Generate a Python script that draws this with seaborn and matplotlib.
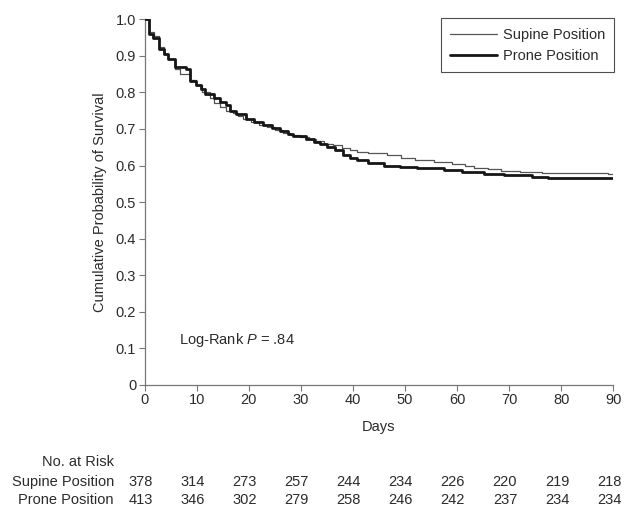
import matplotlib
matplotlib.use("Agg")
import matplotlib.pyplot as plt
import matplotlib.transforms as mtransforms
import numpy as np
import pandas as pd
import seaborn as sns

sns.set_theme(style="white")
plt.rcParams["font.family"] = ["Liberation Sans", "DejaVu Sans"]
plt.rcParams["mathtext.fontset"] = "custom"
plt.rcParams["mathtext.it"] = "Liberation Sans:italic"
plt.rcParams["mathtext.rm"] = "Liberation Sans"

TEXT = "#2b2b2b"

# Kaplan-Meier step values
supine_days = [0, 0.8, 1.8, 2.7, 3.7, 4.6, 5.8, 6.8, 8.7, 9.8, 11.0, 12.5, 13.4, 14.4,
               15.6, 16.9, 18.0, 19.0, 20.5, 22.0, 23.5, 25.0, 26.5, 28.0, 29.8, 31.5,
               33.0, 34.5, 36.2, 38.0, 39.5, 40.8, 43.0, 46.6, 49.2, 52.0, 55.6, 59.0,
               61.5, 63.3, 66.0, 68.5, 72.0, 76.3, 89.0, 90.0]
supine_surv = [1.0, 0.965, 0.955, 0.925, 0.905, 0.89, 0.865, 0.85, 0.835, 0.82, 0.80,
               0.785, 0.77, 0.76, 0.75, 0.745, 0.735, 0.728, 0.72, 0.712, 0.705, 0.698,
               0.69, 0.684, 0.679, 0.672, 0.666, 0.66, 0.656, 0.648, 0.642, 0.637, 0.634,
               0.630, 0.622, 0.616, 0.609, 0.603, 0.598, 0.594, 0.590, 0.586, 0.583,
               0.580, 0.578, 0.578]

prone_days = [0, 0.8, 1.7, 2.7, 3.7, 4.6, 5.9, 7.9, 8.8, 9.8, 10.8, 11.7, 13.4, 14.5,
              15.6, 16.5, 17.5, 19.5, 21.0, 22.7, 24.5, 26.0, 27.5, 28.5, 31.0, 32.5,
              33.7, 35.0, 36.5, 38.2, 39.5, 40.8, 43.0, 45.9, 49.0, 52.4, 57.5, 61.0,
              65.2, 69.0, 74.3, 77.5, 90.0]
prone_surv = [1.0, 0.96, 0.95, 0.92, 0.905, 0.89, 0.87, 0.865, 0.83, 0.82, 0.81, 0.795,
              0.785, 0.775, 0.765, 0.75, 0.74, 0.728, 0.72, 0.71, 0.703, 0.695, 0.687,
              0.68, 0.672, 0.665, 0.66, 0.652, 0.643, 0.630, 0.622, 0.616, 0.608, 0.600,
              0.596, 0.592, 0.587, 0.583, 0.578, 0.574, 0.569, 0.566, 0.566]

risk_days = [0, 10, 20, 30, 40, 50, 60, 70, 80, 90]
supine_risk = [378, 314, 273, 257, 244, 234, 226, 220, 219, 218]
prone_risk = [413, 346, 302, 279, 258, 246, 242, 237, 234, 234]

x_ticks = [0, 10, 20, 30, 40, 50, 60, 70, 80, 90]
y_ticks = [0, 0.1, 0.2, 0.3, 0.4, 0.5, 0.6, 0.7, 0.8, 0.9, 1.0]
y_labels = ["0", "0.1", "0.2", "0.3", "0.4", "0.5", "0.6", "0.7", "0.8", "0.9", "1.0"]

fig = plt.figure(figsize=(6.28, 5.11), dpi=100)
ax = fig.add_axes([0.2301, 0.2466, 0.7465, 0.7157])

sns.lineplot(x=supine_days, y=supine_surv, ax=ax, drawstyle="steps-post",
             estimator=None, sort=False, color="#555555", linewidth=0.9,
             label="Supine Position")
sns.lineplot(x=prone_days, y=prone_surv, ax=ax, drawstyle="steps-post",
             estimator=None, sort=False, color="#161616", linewidth=2.0,
             label="Prone Position")

ax.set_xlim(0, 90)
ax.set_ylim(0, 1.0)
ax.set_xticks(x_ticks)
ax.set_yticks(y_ticks)
ax.set_yticklabels(y_labels)
ax.tick_params(axis="both", direction="out", length=4, width=0.8, color="#777777",
               labelsize=10.5, labelcolor=TEXT, pad=2, left=True, bottom=True)
for side in ["top", "right"]:
    ax.spines[side].set_visible(False)
for side in ["left", "bottom"]:
    ax.spines[side].set_color("#777777")
    ax.spines[side].set_linewidth(0.9)
ax.spines["left"].set_zorder(0)

ax.set_xlabel("Days", fontsize=10.5, color=TEXT, labelpad=9)
ax.set_ylabel("Cumulative Probability of Survival", fontsize=10.5, color=TEXT, labelpad=6)

leg = ax.legend(loc="upper right", bbox_to_anchor=(1.002, 1.003), frameon=True,
                fancybox=False, fontsize=10.5, handlelength=3.2, handletextpad=0.4,
                borderpad=0.65, labelspacing=0.5, borderaxespad=0)
leg.get_frame().set_edgecolor("#222222")
leg.get_frame().set_linewidth(0.8)
for t in leg.get_texts():
    t.set_color(TEXT)

ax.text(6.6, 0.123, "Log-Rank $P$ = .84", fontsize=10.5, color=TEXT, va="center", ha="left")

# number at risk table
trans = mtransforms.blended_transform_factory(ax.transData, fig.transFigure)
label_x = 114 / 628
fig.text(label_x, 1 - 462 / 511, "No. at Risk", ha="right", va="center",
         fontsize=10.5, color=TEXT)
fig.text(label_x, 1 - 482 / 511, "Supine Position", ha="right", va="center",
         fontsize=10.5, color=TEXT)
fig.text(label_x, 1 - 500 / 511, "Prone Position", ha="right", va="center",
         fontsize=10.5, color=TEXT)
for d, s, p in zip(risk_days, supine_risk, prone_risk):
    ax.text(d - 0.8, 1 - 482 / 511, str(s), transform=trans, ha="center", va="center",
            fontsize=10.5, color=TEXT, clip_on=False)
    ax.text(d - 0.8, 1 - 500 / 511, str(p), transform=trans, ha="center", va="center",
            fontsize=10.5, color=TEXT, clip_on=False)

fig.savefig("out.png", dpi=100)
